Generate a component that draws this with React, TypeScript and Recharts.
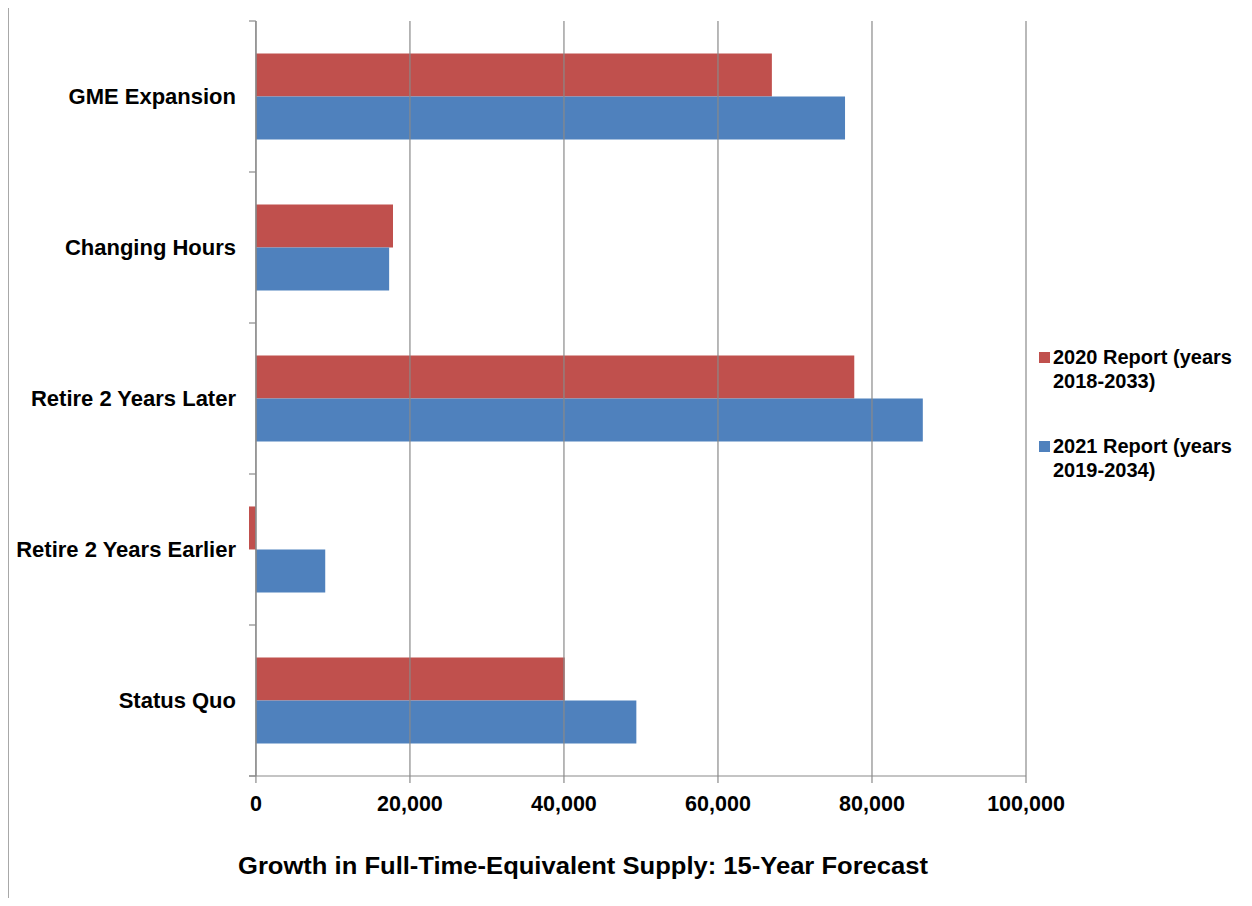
import React from 'react';
import {
  BarChart,
  Bar,
  XAxis,
  YAxis,
  ReferenceLine,
} from 'recharts';

// Scenario names, top to bottom
const categories = [
  'GME Expansion',
  'Changing Hours',
  'Retire 2 Years Later',
  'Retire 2 Years Earlier',
  'Status Quo',
];

// Growth in FTE supply over the 15-year horizon
const report2020 = [67000, 17800, 77700, -900, 40100];
const report2021 = [76500, 17300, 86600, 9000, 49400];

const xTicks = [0, 20000, 40000, 60000, 80000, 100000];
const xDomain: [number, number] = [-900, 100000];

const seriesNames = ['2020 Report (years 2018-2033)', '2021 Report (years 2019-2034)'];
const legendLines = [
  ['2020 Report (years', '2018-2033)'],
  ['2021 Report (years', '2019-2034)'],
];
const seriesColors = ['#C0504D', '#4F81BD'];

const chartTitle = 'Growth in Full-Time-Equivalent Supply: 15-Year Forecast';
const headerText = 'Projections';

const data = categories.map((name, i) => ({
  name,
  r2020: report2020[i],
  r2021: report2021[i],
}));

const FONT = '"Liberation Sans", Arial, sans-serif';
const AXIS_GRAY = '#8a8a8a';

// Category label plus the short boundary marks between categories
const CategoryTick = (props: any) => {
  const { x, y, payload, index } = props;
  const half = payload && typeof payload.offset === 'number' && payload.offset > 0 ? payload.offset : 75.5;
  const lx1 = x + 13;
  const lx2 = x + 20;
  const last = index === categories.length - 1;
  return (
    <g>
      <text
        x={x}
        y={y}
        dy="0.355em"
        textAnchor="end"
        fontFamily={FONT}
        fontWeight="bold"
        fontSize={22}
        fill="#000"
      >
        {payload.value}
      </text>
      <line x1={lx1} x2={lx2} y1={y - half} y2={y - half} stroke={AXIS_GRAY} strokeWidth={1.2} />
      {last && (
        <line x1={lx1} x2={lx2} y1={y + half} y2={y + half} stroke={AXIS_GRAY} strokeWidth={1.2} />
      )}
    </g>
  );
};

const fmt = (v: number) => v.toLocaleString('en-US');

export default function App() {
  return (
    <div
      style={{
        position: 'relative',
        width: 1252,
        height: 906,
        margin: -8,
        overflow: 'hidden',
        background: '#fff',
        fontFamily: FONT,
      }}
    >
      {/* header text, mostly above the visible area */}
      <div
        style={{
          position: 'absolute',
          left: 26,
          top: -17,
          fontSize: 20,
          fontWeight: 'bold',
          color: '#1B9AD2',
          lineHeight: '24px',
          whiteSpace: 'nowrap',
        }}
      >
        {headerText}
      </div>
      {/* outer frame */}
      <div
        style={{
          position: 'absolute',
          left: 7,
          top: 6,
          width: 1260,
          height: 920,
          borderLeft: '2px solid #a8a8a8',
          borderTop: '2px solid #a8a8a8',
        }}
      />
      <div style={{ position: 'absolute', left: 0, top: 0 }}>
        <BarChart
          width={1252}
          height={906}
          data={data}
          layout="vertical"
          margin={{ top: 21, right: 226, bottom: 90, left: 0 }}
          barCategoryGap="21.5%"
          barGap={0}
        >
          <XAxis
            type="number"
            domain={xDomain}
            allowDataOverflow
            ticks={xTicks}
            tickFormatter={fmt}
            height={40}
            tickSize={7}
            tickMargin={13}
            axisLine={{ stroke: AXIS_GRAY, strokeWidth: 1.2 }}
            tickLine={{ stroke: AXIS_GRAY, strokeWidth: 1.2 }}
            tick={{ fontFamily: FONT, fontWeight: 'bold', fontSize: 21.5, fill: '#000' }}
          />
          <YAxis
            type="category"
            dataKey="name"
            width={249}
            tickSize={7}
            tickMargin={6}
            axisLine={false}
            tickLine={false}
            interval={0}
            tick={<CategoryTick />}
          />
          {/* vertical gridlines at each value tick; the one at zero doubles as the category axis */}
          {xTicks.map((t) => (
            <ReferenceLine key={t} x={t} stroke={AXIS_GRAY} strokeWidth={1.2} />
          ))}
          <Bar
            dataKey="r2020"
            name={seriesNames[0]}
            fill={seriesColors[0]}
            isAnimationActive={false}
          />
          <Bar
            dataKey="r2021"
            name={seriesNames[1]}
            fill={seriesColors[1]}
            isAnimationActive={false}
          />
          <ReferenceLine x={0} stroke={AXIS_GRAY} strokeWidth={1.2} />
        </BarChart>
      </div>
      {/* legend */}
      {legendLines.map((lines, i) => (
        <div
          key={seriesNames[i]}
          style={{
            position: 'absolute',
            left: 1039,
            top: 345 + i * 89,
            display: 'flex',
            alignItems: 'flex-start',
          }}
        >
          <div
            style={{
              width: 11,
              height: 11,
              background: seriesColors[i],
              marginTop: 7,
              marginRight: 3,
            }}
          />
          <div style={{ fontSize: 20, fontWeight: 'bold', lineHeight: '24px', color: '#000' }}>
            {lines.map((l) => (
              <div key={l}>{l}</div>
            ))}
          </div>
        </div>
      ))}
      {/* axis title */}
      <svg style={{ position: 'absolute', left: 0, top: 0 }} width={1252} height={906}>
        <text
          x={238}
          y={874}
          textLength={690}
          lengthAdjust="spacingAndGlyphs"
          fontFamily={FONT}
          fontWeight="bold"
          fontSize={23.5}
          fill="#000"
        >
          {chartTitle}
        </text>
      </svg>
    </div>
  );
}
